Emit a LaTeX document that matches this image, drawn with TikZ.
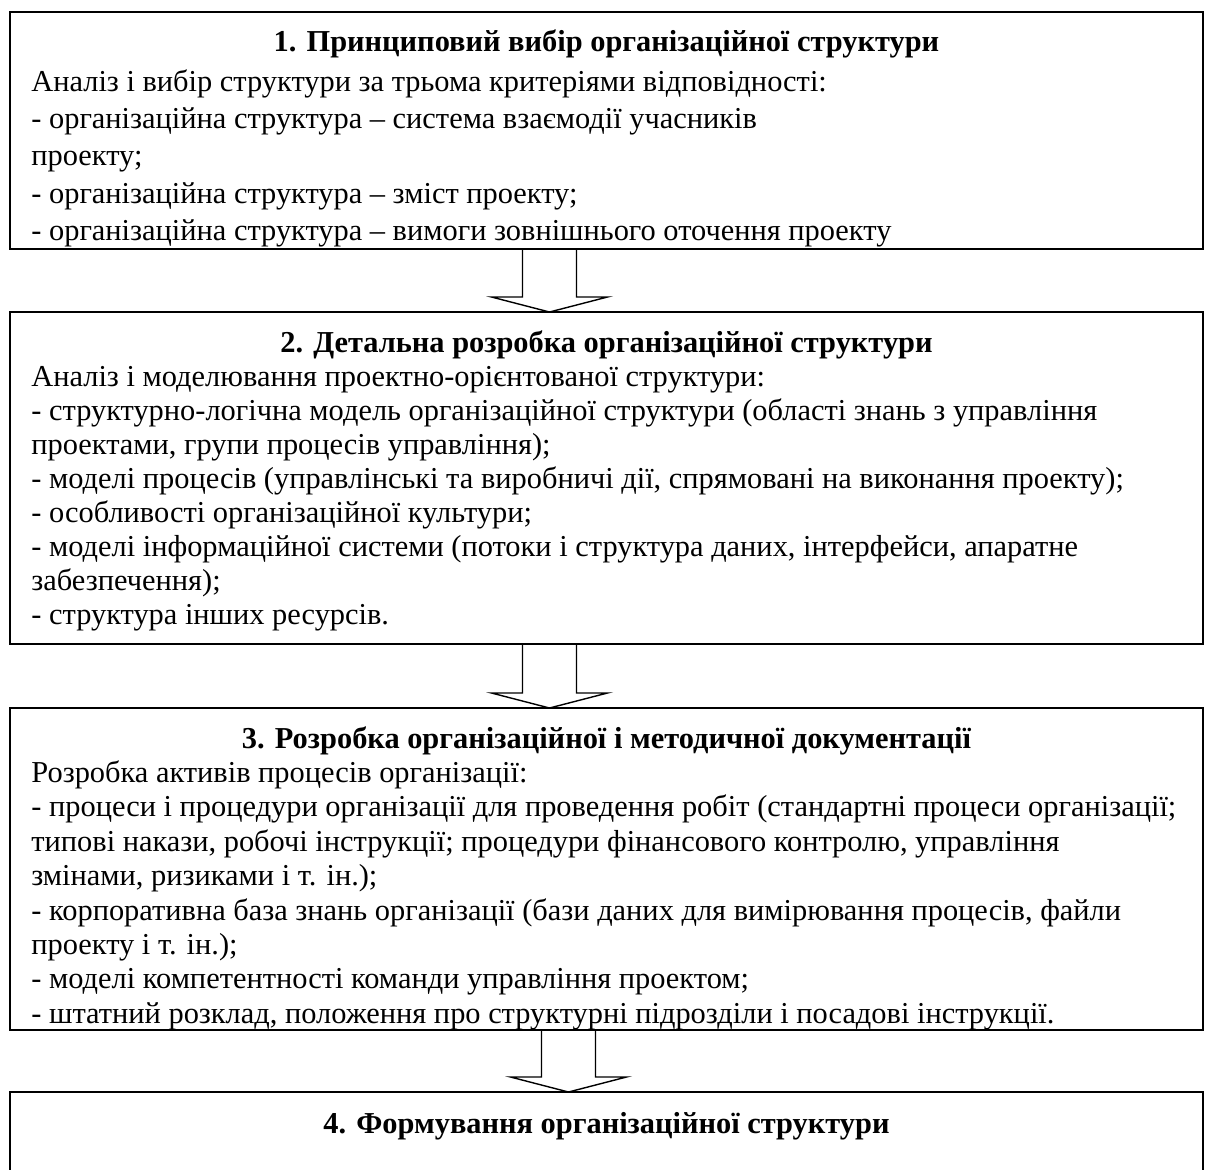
\documentclass[tikz,border=0pt]{standalone}
\usepackage{fontspec}
\setmainfont{Liberation Serif}
\usetikzlibrary{positioning}
\usetikzlibrary{calc}

\begin{document}
\begin{tikzpicture}[x=0.5pt, y=-0.5pt]
        % ================= 样式定义 =================
        \tikzset{
            % 阶段方框:白底黑边矩形
            stagebox/.style={draw=black, line width=1pt, fill=white, minimum width=596.5pt, inner sep=0pt, outer sep=0pt},
            % 阶段标题:粗体居中
            stagetitle/.style={font=\fontsize{15.2}{18}\selectfont\bfseries, inner sep=0pt, anchor=base},
            % 阶段内容:左对齐多行文字 (行距由 #1 给出)
            stagetext/.style={font=\fontsize{15.2}{#1}\selectfont, align=left, inner sep=0pt, anchor=north west},
            % 空心块箭头
            blockarrow/.style={line width=0.7pt, black, line join=miter}
        }

        \useasboundingbox[fill=white] (0,0) rectangle (1211,1169);

        % ================= 四个阶段方框 =================
        \node[stagebox, minimum height=118.5pt] (b1) at (606.5,130.5) {};
        \node[stagebox, minimum height=166pt, below=31.5pt of b1] (b2) {};
        \node[stagebox, minimum height=161pt, below=32pt of b2] (b3) {};
        \node[stagebox, minimum height=40pt, below=31pt of b3] (b4) {};

        % ================= 标题 =================
        \node[stagetitle] (h1) at ($(b1.north)+(0,39)$) {1. Принциповий вибір організаційної структури};
        \node[stagetitle] (h2) at ($(b2.north)+(0,40)$) {2. Детальна розробка організаційної структури};
        \node[stagetitle] (h3) at ($(b3.north)+(0,40)$) {3. Розробка організаційної і методичної документації};
        \node[stagetitle] (h4) at ($(b4.north)+(0,41)$) {4. Формування організаційної структури};

        % ================= 内容 (第一行用 12pt 支柱定高) =================
        \node[stagetext=18.6pt] (t1) at ($(b1.north west)+(21,55)$) {\rule{0pt}{12pt}Аналіз і вибір структури за трьома критеріями відповідності:\\
            - організаційна структура – система взаємодії учасників\\
            проекту;\\
            - організаційна структура – зміст проекту;\\
            - організаційна структура – вимоги зовнішнього оточення проекту};

        \node[stagetext=17pt] (t2) at ($(b2.north west)+(21,50)$) {\rule{0pt}{12pt}Аналіз і моделювання проектно-орієнтованої структури:\\
            - структурно-логічна модель організаційної структури (області знань з управління\\
            проектами, групи процесів управління);\\
            - моделі процесів (управлінські та виробничі дії, спрямовані на виконання проекту);\\
            - особливості організаційної культури;\\
            - моделі інформаційної системи (потоки і структура даних, інтерфейси, апаратне\\
            забезпечення);\\
            - структура інших ресурсів.};

        \node[stagetext=17.2pt] (t3) at ($(b3.north west)+(21,50)$) {\rule{0pt}{12pt}Розробка активів процесів організації:\\
            - процеси і процедури організації для проведення робіт (стандартні процеси організації;\\
            типові накази, робочі інструкції; процедури фінансового контролю, управління\\
            змінами, ризиками і т. ін.);\\
            - корпоративна база знань організації (бази даних для вимірювання процесів, файли\\
            проекту і т. ін.);\\
            - моделі компетентності команди управління проектом;\\
            - штатний розклад, положення про структурні підрозділи і посадові інструкції.};

        % 方框底边压在最后一行文字上
        \foreach \b in {b1, b3} {
            \draw[line width=1pt] (\b.south west) -- (\b.south east);
        }

        % ================= 块箭头 =================
        \foreach \from/\to/\dx in {b1/b2/-57, b2/b3/-57, b3/b4/-38} {
            \draw[blockarrow] ($(\from.south)+(\dx-27,0)$) -- ($(\to.north)+(\dx-27,-15)$)
                -- ($(\to.north)+(\dx-58,-15)$) -- ($(\to.north)+(\dx,0)$)
                -- ($(\to.north)+(\dx+58,-15)$) -- ($(\to.north)+(\dx+27,-15)$)
                -- ($(\from.south)+(\dx+27,0)$);
        }

    \end{tikzpicture}
\end{document}
